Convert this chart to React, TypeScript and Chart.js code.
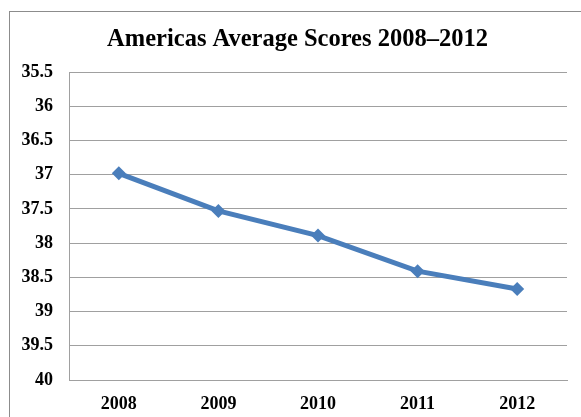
import React, { useEffect, useRef } from "react";
import { Chart, registerables } from "chart.js";

Chart.register(...registerables);

const years = ["2008", "2009", "2010", "2011", "2012"];
const scores = [36.98, 37.53, 37.89, 38.41, 38.67];
const titleText = "Americas Average Scores 2008\u20132012";
const yMin = 35.5;
const yMax = 40;
const yStep = 0.5;

export default function App() {
  const ref = useRef<HTMLCanvasElement | null>(null);

  useEffect(() => {
    if (!ref.current) return;
    const font = "'Liberation Serif', 'Times New Roman', serif";
    const chart = new Chart(ref.current, {
      type: "line",
      data: {
        labels: years,
        datasets: [
          {
            data: scores,
            borderColor: "#4a7ebb",
            backgroundColor: "#4a7ebb",
            borderWidth: 5,
            pointStyle: "rectRot",
            pointRadius: 7,
            pointHoverRadius: 7,
            pointBorderWidth: 0,
            tension: 0,
          },
        ],
      },
      options: {
        animation: false,
        responsive: false,
        maintainAspectRatio: false,
        layout: { padding: { left: 18, right: 18, top: 0, bottom: 0 } },
        plugins: {
          legend: { display: false },
          tooltip: { enabled: false },
          title: {
            display: true,
            text: titleText,
            color: "#000",
            font: { family: font, size: 24.5, weight: "bold" },
            padding: { top: 13.3, bottom: 17.3 },
          },
        },
        scales: {
          x: {
            offset: true,
            grid: { display: false, drawTicks: false },
            border: { display: true, color: "#a0a0a0", width: 1 },
            ticks: {
              color: "#000",
              padding: 14,
              font: { family: font, size: 18, weight: "bold" },
              maxRotation: 0,
            },
            afterFit: (s: any) => {
              s.height = 42;
            },
          },
          y: {
            reverse: true,
            min: yMin,
            max: yMax,
            grid: { color: "#a0a0a0", drawTicks: false, lineWidth: 1 },
            border: { display: true, color: "#a0a0a0", width: 1 },
            ticks: {
              stepSize: yStep,
              color: "#000",
              padding: 16,
              font: { family: font, size: 18, weight: "bold" },
              callback: (v: any) => String(Math.round(Number(v) * 10) / 10),
            },
            afterFit: (s: any) => {
              s.width = 41;
              s._computeLabelArea = () => undefined;
            },
          },
        },
      },
    });
    return () => chart.destroy();
  }, []);

  return (
    <div
      style={{
        position: "fixed",
        left: 0,
        top: 0,
        width: 581,
        height: 417,
        overflow: "hidden",
        background: "#fff",
      }}
    >
      <div
        style={{
          position: "absolute",
          left: 9,
          top: 11,
          width: 576,
          height: 420,
          border: "1px solid #8c8c8c",
          boxSizing: "border-box",
          background: "#fff",
        }}
      >
        <canvas
          ref={ref}
          width={575}
          height={410}
          style={{ position: "absolute", left: 0, top: 0, width: 575, height: 410 }}
        />
      </div>
    </div>
  );
}
